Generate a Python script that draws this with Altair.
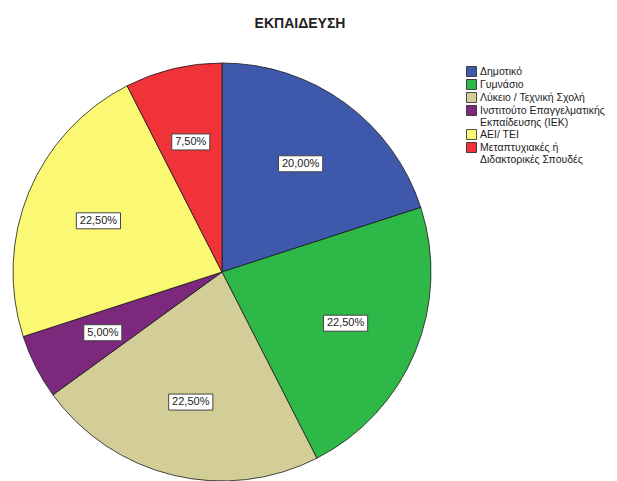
import altair as alt
import pandas as pd

categories = [
    "Δημοτικό",
    "Γυμνάσιο",
    "Λύκειο / Τεχνική Σχολή",
    "Ινστιτούτο Επαγγελματικής|Εκπαίδευσης (ΙΕΚ)",
    "ΑΕΙ/ ΤΕΙ",
    "Μεταπτυχιακές ή|Διδακτορικές Σπουδές",
]
percentages = [20.0, 22.5, 22.5, 5.0, 22.5, 7.5]
colors = ["#3E58AC", "#2EB848", "#D3CE97", "#7C287D", "#FBF873", "#EF3338"]

df = pd.DataFrame({"category": categories, "pct": percentages, "idx": list(range(len(categories)))})

R = 209
W = 2 * R
H = 418
LABEL_R = 0.64
FONT = "Liberation Sans"

xs = alt.Scale(domain=[-1, 1], range=[0, W], nice=False, zero=False)
ys = alt.Scale(domain=[-1, 1], range=[W, 0], nice=False, zero=False)

base = alt.Chart(df)

arc = base.mark_arc(radius=R, stroke="#1a1a1a", strokeWidth=0.8).encode(
    theta=alt.Theta("pct:Q", stack=True),
    x=alt.value(R),
    y=alt.value(R),
    color=alt.Color(
        "category:N",
        scale=alt.Scale(domain=categories, range=colors),
        sort=categories,
        legend=alt.Legend(
            title=None,
            orient="none",
            legendX=453,
            legendY=3,
            symbolType="square",
            symbolSize=100,
            symbolStrokeColor="#222",
            symbolStrokeWidth=0.8,
            labelFont=FONT,
            labelFontSize=10.5,
            labelColor="#222",
            labelLimit=200,
            rowPadding=-2,
            labelOffset=3,
            labelExpr="split(datum.label, '|')",
        ),
    ),
    order=alt.Order("idx:Q"),
)

lab = base.transform_window(
    cum="sum(pct)", sort=[alt.SortField("idx")], frame=[None, 0]
).transform_calculate(
    mid="(datum.cum - datum.pct / 2) / 100 * 2 * PI",
    lx=f"sin(datum.mid) * {LABEL_R}",
    ly=f"cos(datum.mid) * {LABEL_R}",
    label="replace(format(datum.pct, '.2f'), '.', ',') + '%'",
    hw=f"(length(datum.label) * 6.2 + 7) / 2 / {R}",
    hh=f"8 / {R}",
).transform_calculate(
    bx1="datum.lx - datum.hw",
    bx2="datum.lx + datum.hw",
    by1="datum.ly - datum.hh",
    by2="datum.ly + datum.hh",
)

boxes = lab.mark_rect(fill="white", stroke="#444", strokeWidth=1).encode(
    x=alt.X("bx1:Q", scale=xs, axis=None),
    x2="bx2:Q",
    y=alt.Y("by1:Q", scale=ys, axis=None),
    y2="by2:Q",
)

texts = lab.mark_text(font=FONT, fontSize=11, color="#222").encode(
    x=alt.X("lx:Q", scale=xs, axis=None),
    y=alt.Y("ly:Q", scale=ys, axis=None),
    text="label:N",
)

chart = alt.layer(arc, boxes, texts).properties(
    width=W,
    height=H,
    title=alt.TitleParams(
        "ΕΚΠΑΙΔΕΥΣΗ",
        font=FONT,
        fontSize=14,
        fontWeight="bold",
        color="#222",
        anchor="middle",
        frame="group",
        dx=78,
        offset=30,
    ),
    autosize=alt.AutoSizeParams(type="none"),
    padding={"left": 5, "top": 55, "right": 178, "bottom": 0},
).configure_view(stroke=None).resolve_scale(x="shared", y="shared")

chart.save("out.html", embed_options={"renderer": "svg", "actions": False})
